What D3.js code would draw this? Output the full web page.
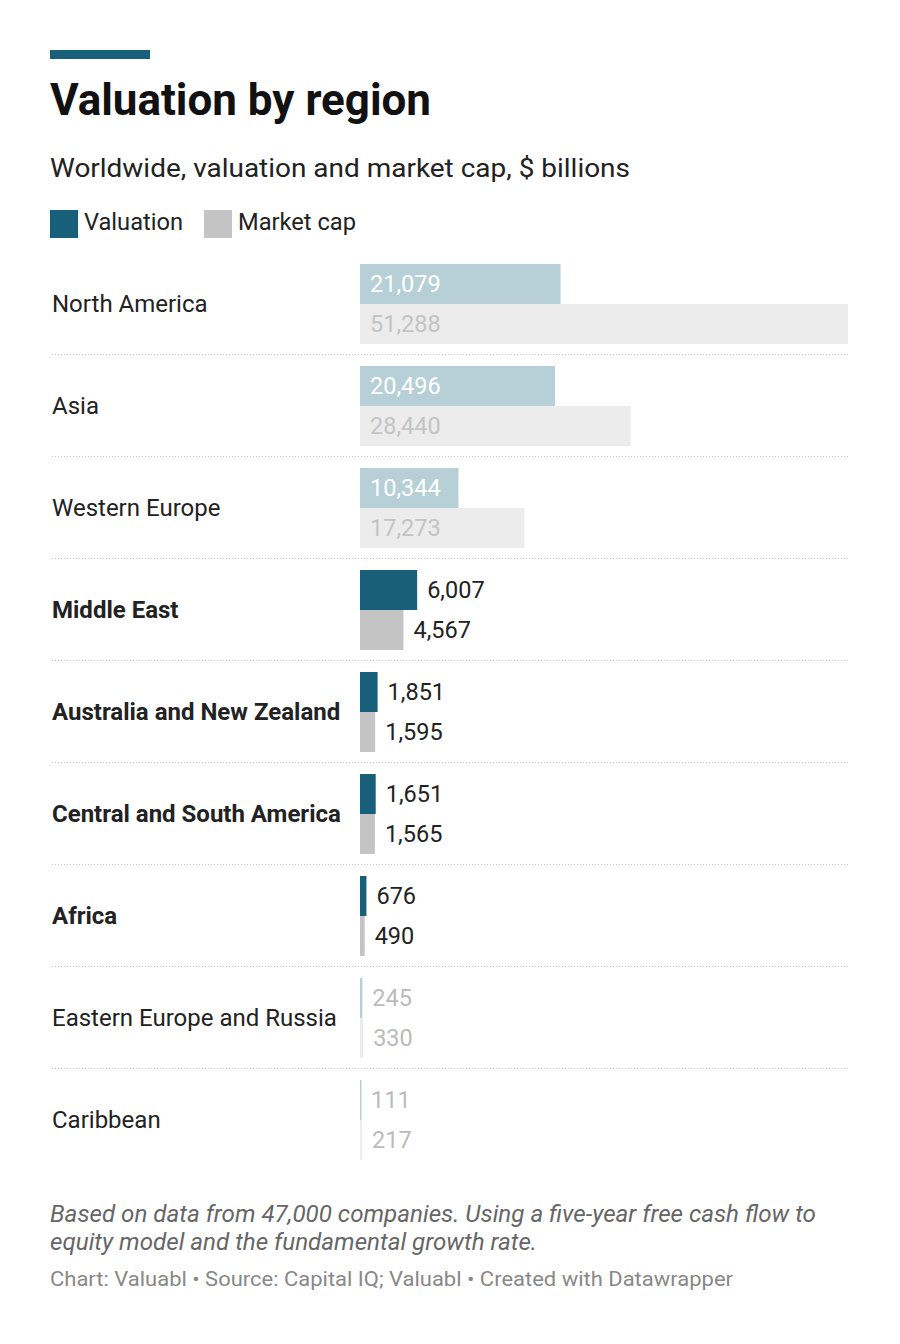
<!DOCTYPE html>
<html><head><meta charset="utf-8">
<script src="https://cdn.jsdelivr.net/npm/d3@7"></script>
<style>
body{margin:0;background:#fff;}
svg text{font-family:Roboto,"Noto Sans",sans-serif;}
</style></head>
<body><svg id="c" width="900" height="1344"></svg>
<script>
const regions = ["North America","Asia","Western Europe","Middle East","Australia and New Zealand","Central and South America","Africa","Eastern Europe and Russia","Caribbean"];
const valuation = [21079,20496,10344,6007,1851,1651,676,245,111];
const marketCap = [51288,28440,17273,4567,1595,1565,490,330,217];
const highlighted = ["Middle East","Australia and New Zealand","Central and South America","Africa"];
const seriesNames = ["Valuation","Market cap"];

const svg = d3.select("#c");
const fmt = d3.format(",");
const colDark = "#18607a", colGrey = "#c4c4c4", colDarkFade = "#b7cfd7", colGreyFade = "#ececec";

svg.append("rect").attr("x",50).attr("y",50).attr("width",100).attr("height",9).attr("fill",colDark);
svg.append("text").attr("x",50).attr("y",115).attr("font-size",44).attr("font-weight",700).attr("fill","#111")
  .attr("textLength",381).attr("lengthAdjust","spacingAndGlyphs").text("Valuation by region");
svg.append("text").attr("x",50).attr("y",177).attr("font-size",26).attr("fill","#222")
  .attr("textLength",580).attr("lengthAdjust","spacingAndGlyphs").text("Worldwide, valuation and market cap, $ billions");

// legend
const lg = [{n:seriesNames[0],c:colDark,x:50,w:99},{n:seriesNames[1],c:colGrey,x:204,w:118}];
lg.forEach(d=>{
  svg.append("rect").attr("x",d.x).attr("y",210).attr("width",28).attr("height",28).attr("fill",d.c);
  svg.append("text").attr("x",d.x+34).attr("y",230).attr("font-size",23.5).attr("fill","#222")
    .attr("textLength",d.w).attr("lengthAdjust","spacingAndGlyphs").text(d.n);
});

const x = d3.scaleLinear().domain([0,51288]).range([360,848]);
const y = d3.scaleBand().domain(regions).range([264,264+102*9]).paddingInner(0).paddingOuter(0);
const barH = 40;

regions.forEach((r,i)=>{
  const y0 = y(r);
  const hl = highlighted.includes(r);
  const g = svg.append("g");
  g.append("text").attr("x",52).attr("y",y0+48).attr("font-size",24)
    .attr("font-weight",hl?700:400).attr("fill","#222").text(r);
  const vals = [valuation[i],marketCap[i]];
  vals.forEach((v,k)=>{
    const by = y0 + k*barH;
    const w = x(v)-x(0);
    const fill = hl ? (k===0?colDark:colGrey) : (k===0?colDarkFade:colGreyFade);
    g.append("rect").attr("x",x(0)).attr("y",by).attr("width",Math.max(w,1.5)).attr("height",barH).attr("fill",fill);
    const inside = w > 80;
    let tcol;
    if (inside) tcol = k===0 ? "#fff" : "#c4c4c4";
    else tcol = hl ? "#222" : "#bbb";
    g.append("text").attr("x",inside? x(0)+10 : x(v)+10).attr("y",by+28).attr("font-size",23.5)
      .attr("fill",tcol).text(fmt(v));
  });
  if (i < regions.length-1) {
    g.append("line").attr("x1",52).attr("x2",848).attr("y1",y0+90.5).attr("y2",y0+90.5)
      .attr("stroke","#c8c8c8").attr("stroke-width",1).attr("stroke-dasharray","1,2");
  }
});

svg.append("text").attr("x",50).attr("y",1222).attr("font-size",23).attr("font-style","italic").attr("fill","#666")
  .attr("textLength",766).attr("lengthAdjust","spacingAndGlyphs").text("Based on data from 47,000 companies. Using a five-year free cash flow to");
svg.append("text").attr("x",50).attr("y",1250).attr("font-size",23).attr("font-style","italic").attr("fill","#666")
  .attr("textLength",487).attr("lengthAdjust","spacingAndGlyphs").text("equity model and the fundamental growth rate.");
svg.append("text").attr("x",50).attr("y",1286).attr("font-size",21).attr("fill","#888")
  .attr("textLength",683).attr("lengthAdjust","spacingAndGlyphs").text("Chart: Valuabl • Source: Capital IQ; Valuabl • Created with Datawrapper");
</script></body></html>
